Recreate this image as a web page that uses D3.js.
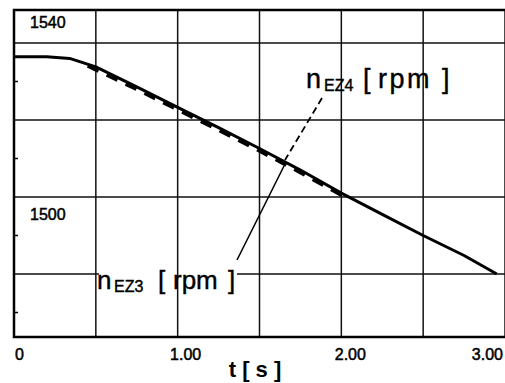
<!DOCTYPE html>
<html>
<head>
<meta charset="utf-8">
<script src="https://cdn.jsdelivr.net/npm/d3@7"></script>
<style>
  html, body { margin: 0; padding: 0; background: #fff; }
  svg { display: block; font-family: "Liberation Sans", Arial, sans-serif; }
</style>
</head>
<body>
<div id="chart"></div>
<script>
// time axis [s]
const timeS = [0, 0.2, 0.34, 0.5, 0.75, 1.0, 1.25, 1.5, 1.75, 2.0, 2.25, 2.5, 2.75, 2.95];
// speed n_EZ3 [rpm] (solid)
const nEZ3 = [1536.4, 1536.4, 1536.0, 1533.8, 1528.6, 1523.3, 1518.0, 1512.6, 1507.0, 1501.0, 1495.5, 1490.0, 1484.8, 1480.0];
// speed n_EZ4 [rpm] (dashed, almost on top of n_EZ3)
const timeEZ4 = [0.45, 0.75, 1.0, 1.25, 1.5, 1.75, 2.0];
const nEZ4 = [1534.3, 1528.2, 1522.9, 1517.6, 1512.2, 1506.6, 1500.7];

const xTicks = [0, 0.5, 1.0, 1.5, 2.0, 2.5, 3.0];
const xTickLabels = ["0", "1.00", "2.00", "3.00"];
const xLabelValues = [0, 1, 2, 3];
const yGrid = [1540, 1520, 1500, 1480];
const yLabelValues = [1540, 1500];
const yMinorTicks = [1530, 1510, 1490, 1470];

const W = 505, H = 383;
const svg = d3.select('#chart').append('svg')
  .attr('width', W).attr('height', H);

const x = d3.scaleLinear().domain([0, 3]).range([14, 505]);
const y = d3.scaleLinear().domain([1500, 1540]).range([197, 43]);
const yTop = y.invert(10), yBottom = y.invert(337);

// horizontal grid
svg.append('g').selectAll('line')
  .data(yGrid)
  .enter().append('line')
  .attr('x1', x(0)).attr('x2', x(3))
  .attr('y1', d => y(d)).attr('y2', d => y(d))
  .attr('stroke', '#111').attr('stroke-width', 1.5);

// white patch behind the lower label (covers the horizontal grid only)
svg.append('rect')
  .attr('x', 99).attr('y', 266).attr('width', 138).attr('height', 24)
  .attr('fill', '#fff');

// vertical grid
svg.append('g').selectAll('line')
  .data(xTicks.slice(1))
  .enter().append('line')
  .attr('x1', d => x(d)).attr('x2', d => x(d))
  .attr('y1', y(yTop)).attr('y2', y(yBottom))
  .attr('stroke', '#111').attr('stroke-width', 1.5);

// frame: top, left, bottom
svg.append('path')
  .attr('d', `M${x(3)},${y(yTop)}H${x(0)}V${y(yBottom)}H${x(3)}`)
  .attr('fill', 'none').attr('stroke', '#000').attr('stroke-width', 2.5);

// small ticks on the left axis
svg.append('g').selectAll('line')
  .data(yMinorTicks)
  .enter().append('line')
  .attr('x1', x(0)).attr('x2', x(0) + 4)
  .attr('y1', d => y(d)).attr('y2', d => y(d))
  .attr('stroke', '#000').attr('stroke-width', 1.5);

// tick labels
svg.append('g').selectAll('text')
  .data(yLabelValues)
  .enter().append('text')
  .attr('x', 30)
  .attr('y', (d, i) => i === 0 ? y(d) - 15 : y(d) + 23)
  .attr('font-size', 16).attr('fill', '#000')
  .attr('stroke', '#000').attr('stroke-width', 0.5)
  .text(d => d);

const xAnchor = ['start', 'middle', 'middle', 'end'];
const xShift = [1, 8, 9, -2];
svg.append('g').selectAll('text')
  .data(xLabelValues)
  .enter().append('text')
  .attr('x', (d, i) => x(d) + xShift[i])
  .attr('y', 360)
  .attr('text-anchor', (d, i) => xAnchor[i])
  .attr('font-size', 16).attr('fill', '#000')
  .attr('stroke', '#000').attr('stroke-width', 0.5)
  .text((d, i) => xTickLabels[i]);

// axis title
svg.append('text')
  .attr('x', 255).attr('y', 377)
  .attr('text-anchor', 'middle')
  .attr('font-size', 22).attr('font-weight', 'bold')
  .text('t [ s ]');

// curves
const line = d3.line().x(d => x(d[0])).y(d => y(d[1]));

svg.append('path')
  .datum(d3.zip(timeEZ4, nEZ4))
  .attr('d', line)
  .attr('fill', 'none').attr('stroke', '#000')
  .attr('stroke-width', 3.5)
  .attr('stroke-dasharray', '12,9')
  .attr('transform', 'translate(0,1)');

svg.append('path')
  .datum(d3.zip(timeS, nEZ3))
  .attr('d', line)
  .attr('fill', 'none').attr('stroke', '#000')
  .attr('stroke-width', 3)
  .attr('stroke-linejoin', 'round');

// leader lines
svg.append('line')
  .attr('x1', 322).attr('y1', 98).attr('x2', 285).attr('y2', 160)
  .attr('stroke', '#000').attr('stroke-width', 1.8)
  .attr('stroke-dasharray', '7,4');
svg.append('line')
  .attr('x1', 284).attr('y1', 166).attr('x2', 237).attr('y2', 260)
  .attr('stroke', '#000').attr('stroke-width', 1.5);

// labels: [start x, sub x, "[" x, rpm x, "]" x]
function seriesLabel(pos, ty, sub, fs, rpmSpacing) {
  const t = svg.append('text').attr('y', ty)
    .attr('font-size', fs).attr('fill', '#000')
    .attr('stroke', '#000').attr('stroke-width', 0.4);
  t.append('tspan').attr('x', pos[0]).text('n');
  t.append('tspan').attr('x', pos[1]).attr('font-size', 16).attr('dy', 3).text(sub);
  t.append('tspan').attr('x', pos[2]).attr('dy', -3).text('[');
  t.append('tspan').attr('x', pos[3]).attr('letter-spacing', rpmSpacing).text('rpm');
  t.append('tspan').attr('x', pos[4]).text(']');
}
seriesLabel([306, 324, 363, 378, 442], 88, 'EZ4', 27, 2.5);
seriesLabel([97, 114, 158, 173, 228], 289, 'EZ3', 26, 0);
</script>
</body>
</html>
